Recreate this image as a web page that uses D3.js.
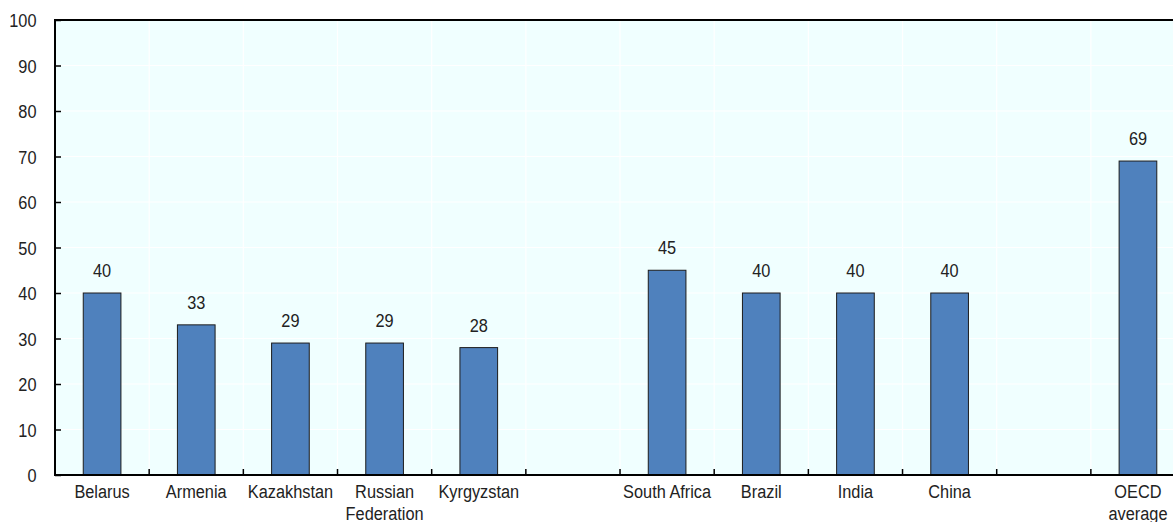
<!DOCTYPE html>
<html>
<head>
<meta charset="utf-8">
<script src="https://cdn.jsdelivr.net/npm/d3@7"></script>
<style>
  html, body { margin: 0; padding: 0; background: #ffffff; }
  svg { display: block; }
  text { font-family: "Liberation Sans Narrow", "Arial Narrow", "Liberation Sans", Arial, sans-serif; fill: #222; }
</style>
</head>
<body>
<svg id="chart" width="1173" height="522"></svg>
<script>
// Country groups; empty entries are spacer slots between groups
const categories = [
  ["Belarus"], ["Armenia"], ["Kazakhstan"], ["Russian", "Federation"], ["Kyrgyzstan"],
  [],
  ["South Africa"], ["Brazil"], ["India"], ["China"],
  [],
  ["OECD", "average"]
];
const values = [40, 33, 29, 29, 28, null, 45, 40, 40, 40, null, 69];
const yTicks = [0, 10, 20, 30, 40, 50, 60, 70, 80, 90, 100];

(function () {
  const svg = d3.select("#chart");
  const plotLeft = 55, plotTop = 20, plotBottom = 475;
  const slot = 94.17;
  const plotRight = plotLeft + slot * categories.length;
  const fontSize = 19;
  const squeeze = 0.86;   // horizontal condensing to get a narrow face

  const x = d3.scaleBand()
    .domain(d3.range(categories.length))
    .range([plotLeft, plotRight])
    .padding(0);

  const y = d3.scaleLinear().domain([0, 100]).range([plotBottom, plotTop]);

  // condensed text placed at (px, py)
  function narrowText(sel, px, py) {
    sel.attr("transform", d => `translate(${px(d)},${py(d)}) scale(${squeeze},1)`)
      .attr("font-size", fontSize);
  }

  // plot background
  svg.append("rect")
    .attr("x", plotLeft).attr("y", plotTop)
    .attr("width", plotRight - plotLeft).attr("height", plotBottom - plotTop)
    .attr("fill", "#f0ffff");

  // white gridlines
  svg.append("g").selectAll("line")
    .data(yTicks.slice(1, -1))
    .join("line")
    .attr("x1", plotLeft).attr("x2", plotRight)
    .attr("y1", d => y(d)).attr("y2", d => y(d))
    .attr("stroke", "#ffffff").attr("stroke-width", 1.2);

  const boundaries = d3.range(1, categories.length).map(i => x(i));
  svg.append("g").selectAll("line")
    .data(boundaries)
    .join("line")
    .attr("x1", d => d).attr("x2", d => d)
    .attr("y1", plotTop).attr("y2", plotBottom)
    .attr("stroke", "#ffffff").attr("stroke-width", 1.2);

  // bars
  const barW = x.bandwidth() * 0.4;
  const barData = values.map((v, i) => ({ v, i })).filter(d => d.v !== null);

  svg.append("g").selectAll("rect")
    .data(barData)
    .join("rect")
    .attr("x", d => x(d.i) + (x.bandwidth() - barW) / 2)
    .attr("y", d => y(d.v))
    .attr("width", barW)
    .attr("height", d => y(0) - y(d.v))
    .attr("fill", "#4f81bd")
    .attr("stroke", "#1c1c1c")
    .attr("stroke-width", 1);

  // value labels
  svg.append("g").selectAll("text")
    .data(barData)
    .join("text")
    .attr("text-anchor", "middle")
    .call(narrowText, d => x(d.i) + x.bandwidth() / 2, d => y(d.v) - 16)
    .text(d => d.v);

  // y axis
  const yAxis = d3.axisLeft(y).tickValues(yTicks).tickSize(-6).tickPadding(0);
  const gy = svg.append("g").attr("transform", `translate(${plotLeft},0)`).call(yAxis);
  gy.attr("font-family", null).attr("font-size", null);
  gy.select(".domain").remove();
  gy.selectAll(".tick line").attr("stroke", "#000").attr("stroke-width", 1.5);
  gy.selectAll(".tick text")
    .attr("x", null).attr("dy", null)
    .attr("fill", "#222")
    .call(narrowText, () => -18.5, () => 6.5);

  // x axis ticks at slot boundaries
  svg.append("g").selectAll("line")
    .data(boundaries)
    .join("line")
    .attr("x1", d => d).attr("x2", d => d)
    .attr("y1", plotBottom).attr("y2", plotBottom - 6)
    .attr("stroke", "#000").attr("stroke-width", 1.5);

  // frame lines: top, left, bottom
  svg.append("line").attr("x1", plotLeft).attr("x2", plotRight).attr("y1", plotTop).attr("y2", plotTop)
    .attr("stroke", "#000").attr("stroke-width", 2);
  svg.append("line").attr("x1", plotLeft).attr("x2", plotLeft).attr("y1", plotTop - 1).attr("y2", plotBottom + 1)
    .attr("stroke", "#000").attr("stroke-width", 2);
  svg.append("line").attr("x1", plotLeft).attr("x2", plotRight).attr("y1", plotBottom).attr("y2", plotBottom)
    .attr("stroke", "#000").attr("stroke-width", 2);

  // category labels, one text per line
  const lines = [];
  categories.forEach((c, i) => c.forEach((line, k) => lines.push({ line, k, i })));
  svg.append("g").selectAll("text")
    .data(lines)
    .join("text")
    .attr("text-anchor", "middle")
    .call(narrowText, d => x(d.i) + x.bandwidth() / 2, d => 498 + d.k * 21.5)
    .text(d => d.line);
})();
</script>
</body>
</html>
